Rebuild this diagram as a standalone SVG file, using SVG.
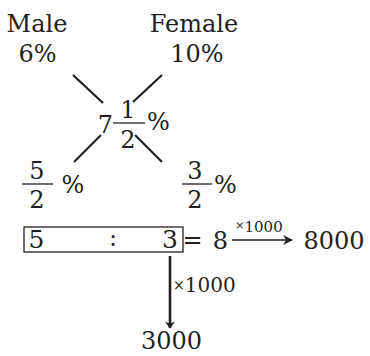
<svg xmlns="http://www.w3.org/2000/svg" width="370" height="356" viewBox="0 0 370 356">
<style>
text{font-family:"DejaVu Serif","Liberation Serif",serif;fill:#231f20;font-size:24px;text-anchor:middle}
.s{font-size:15px}
.m{font-size:20px}
.x{font-size:11px}
.ln{stroke:#231f20;stroke-width:2.2;fill:none}
.bar{stroke:#231f20;stroke-width:1.3}
</style>
<defs>
<marker id="ah" viewBox="0 0 10 10" refX="9" refY="5" markerWidth="10" markerHeight="10" markerUnits="userSpaceOnUse" orient="auto">
<path d="M0,0 L10,5 L0,10 L3,5 Z" fill="#231f20"/>
</marker>
<marker id="ahv" viewBox="0 0 10 14" refX="9" refY="7" markerWidth="14" markerHeight="10" markerUnits="userSpaceOnUse" orient="auto">
<path d="M0,0 L10,7 L0,14 L3,7 Z" fill="#231f20"/>
</marker>
</defs>
<g id="male"><text x="37" y="32">Male</text><text x="37.5" y="62">6%</text></g>
<g id="female"><text x="194" y="32">Female</text><text x="197" y="62">10%</text></g>
<g id="mean"><text x="105.5" y="133">7</text><text x="128" y="118">1</text><line class="bar" x1="113" y1="123" x2="145" y2="123"/><text x="128" y="148">2</text><text x="158.5" y="130">%</text></g>
<g id="left-diff"><text x="37" y="179">5</text><line class="bar" x1="22" y1="184" x2="53" y2="184"/><text x="37" y="208">2</text><text x="73" y="193">%</text></g>
<g id="right-diff"><text x="195" y="179">3</text><line class="bar" x1="182" y1="184" x2="212" y2="184"/><text x="195" y="208">2</text><text x="225.5" y="193">%</text></g>
<g id="ratio"><rect x="24" y="227" width="159" height="25" fill="none" stroke="#231f20" stroke-width="1.3"/><text x="36.5" y="248" style="font-size:25px">5</text><text x="113" y="246">:</text><text x="170" y="248" style="font-size:25px">3</text></g>
<g id="sum"><text x="192.5" y="248">=</text><text x="220.5" y="249">8</text></g>
<g id="total"><text x="334" y="249">8000</text></g>
<g id="result"><text x="171.5" y="349">3000</text></g>
<g id="connectors">
<line class="ln" x1="73" y1="75" x2="103" y2="103"/>
<line class="ln" x1="162" y1="75" x2="133" y2="102"/>
<line class="ln" x1="101" y1="135" x2="74" y2="162"/>
<line class="ln" x1="135" y1="135" x2="162" y2="162"/>
<line x1="232" y1="240" x2="292" y2="240" stroke="#231f20" stroke-width="1.5" marker-end="url(#ah)"/>
<text class="s" x="259" y="232"><tspan class="x" dy="-3">×</tspan><tspan dy="3">1000</tspan></text>
<line x1="170" y1="256" x2="170" y2="328" stroke="#231f20" stroke-width="2.6" marker-end="url(#ahv)"/>
<text class="m" x="173" y="292" style="text-anchor:start"><tspan style="font-size:14px" dy="-2">×</tspan><tspan dy="2">1000</tspan></text>
</g>
</svg>
